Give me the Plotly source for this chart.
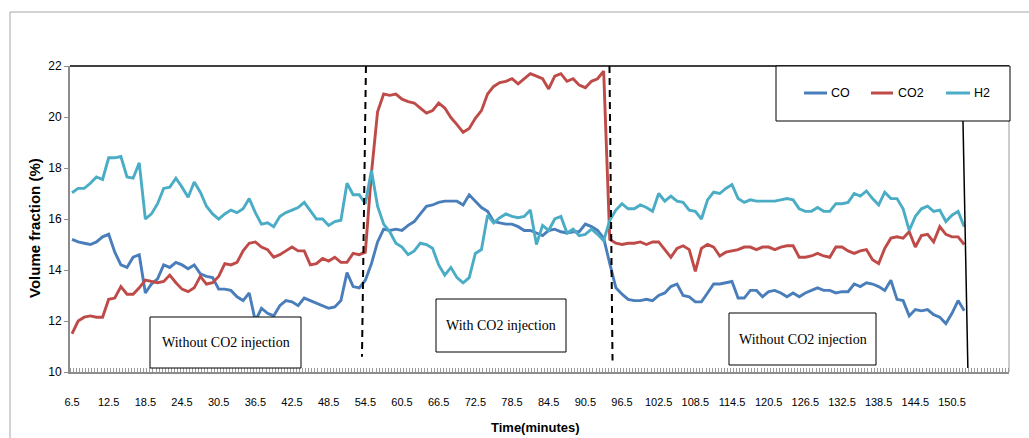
import plotly.graph_objects as go

# Gas composition sampled once a minute (minutes from start)
co = [15.2, 15.1, 15.05, 15.0, 15.1, 15.3, 15.4, 14.7, 14.2, 14.1,
      14.5, 14.6, 13.1, 13.45, 13.65, 14.2, 14.1, 14.3, 14.2, 14.05,
      14.2, 13.85, 13.75, 13.7, 13.25, 13.25, 13.2, 12.95, 12.8, 13.1,
      12.0, 12.5, 12.3, 12.2, 12.6, 12.8, 12.75, 12.6, 12.9, 12.8,
      12.7, 12.6, 12.5, 12.55, 12.8, 13.9, 13.35, 13.3, 13.6, 14.25,
      15.1, 15.6, 15.55, 15.6, 15.55, 15.75, 15.9, 16.2, 16.5, 16.55,
      16.65, 16.7, 16.7, 16.7, 16.55, 16.95, 16.7, 16.45, 16.3, 15.9,
      15.85, 15.8, 15.8, 15.7, 15.55, 15.55, 15.45, 15.35, 15.55, 15.6,
      15.5, 15.45, 15.5, 15.5, 15.8, 15.7, 15.55, 15.25, 14.25, 13.3,
      13.05, 12.85, 12.8, 12.8, 12.85, 12.8, 13.0, 13.1, 13.35, 13.45,
      13.0, 12.95, 12.75, 12.75, 13.1, 13.45, 13.45, 13.5, 13.55, 12.9,
      12.9, 13.2, 13.2, 12.95, 13.15, 13.2, 13.1, 12.95, 13.1, 12.95,
      13.1, 13.2, 13.3, 13.2, 13.2, 13.1, 13.15, 13.15, 13.45, 13.35,
      13.5, 13.45, 13.35, 13.2, 13.6, 12.85, 12.8, 12.2, 12.45, 12.4,
      12.45, 12.25, 12.15, 11.9, 12.3, 12.8, 12.4]

co2 = [11.5, 12.0, 12.15, 12.2, 12.15, 12.15, 12.85, 12.9, 13.35, 13.05,
       13.05, 13.3, 13.6, 13.55, 13.5, 13.55, 13.8, 13.5, 13.25, 13.15,
       13.3, 13.75, 13.45, 13.5, 13.75, 14.25, 14.2, 14.3, 14.75, 15.05,
       15.1, 14.9, 14.8, 14.5, 14.6, 14.75, 14.9, 14.75, 14.75, 14.2,
       14.25, 14.45, 14.35, 14.5, 14.3, 14.3, 14.65, 14.6, 14.7, 17.8,
       20.2, 20.9, 20.85, 20.9, 20.7, 20.6, 20.55, 20.35, 20.15, 20.25,
       20.55, 20.35, 19.98, 19.7, 19.4, 19.55, 19.95, 20.25, 20.9, 21.2,
       21.35, 21.4, 21.5, 21.3, 21.5, 21.7, 21.6, 21.5, 21.1, 21.6,
       21.7, 21.4, 21.5, 21.25, 21.15, 21.4, 21.5, 21.8, 15.2, 15.05,
       15.0, 15.05, 15.05, 15.1, 15.0, 15.1, 15.1, 14.8, 14.5, 14.85,
       14.95, 14.8, 13.95, 14.85, 15.0, 14.9, 14.55, 14.7, 14.75, 14.8,
       14.9, 14.9, 14.8, 14.9, 14.9, 14.8, 14.9, 14.95, 14.95, 14.5,
       14.5, 14.55, 14.65, 14.55, 14.5, 14.9, 14.9, 14.75, 14.65, 14.75,
       14.8, 14.4, 14.25, 14.85, 15.25, 15.3, 15.25, 15.5, 14.9, 15.35,
       15.4, 15.1, 15.7, 15.4, 15.3, 15.3, 15.0]

h2 = [17.03, 17.2, 17.2, 17.4, 17.65, 17.55, 18.4, 18.4, 18.45, 17.65,
      17.6, 18.2, 16.0, 16.2, 16.6, 17.2, 17.25, 17.6, 17.25, 16.85,
      17.45, 17.05, 16.5, 16.2, 16.0, 16.2, 16.35, 16.25, 16.4, 16.8,
      16.25, 15.8, 15.85, 15.7, 16.1, 16.25, 16.35, 16.45, 16.65, 16.3,
      16.0, 16.0, 15.75, 15.9, 15.95, 17.4, 16.95, 16.95, 16.6, 17.9,
      16.5, 15.8, 15.5, 15.05, 14.9, 14.6, 14.75, 15.05, 15.0, 14.85,
      14.2, 13.8, 14.1, 13.7, 13.5, 13.7, 14.65, 14.8, 16.15, 15.85,
      16.05, 16.2, 16.1, 16.05, 16.1, 16.35, 15.0, 15.75, 15.55, 16.0,
      16.1, 15.45, 15.6, 15.35, 15.4, 15.6, 15.4, 15.15, 15.95, 16.35,
      16.6, 16.4, 16.4, 16.55, 16.45, 16.3, 17.0, 16.7, 16.9, 16.7,
      16.65, 16.35, 16.3, 16.0, 16.75, 17.05, 17.0, 17.2, 17.35, 16.8,
      16.65, 16.75, 16.7, 16.7, 16.7, 16.7, 16.75, 16.8, 16.75, 16.4,
      16.3, 16.3, 16.45, 16.3, 16.3, 16.6, 16.6, 16.65, 17.0, 16.9,
      17.1, 16.8, 16.55, 17.05, 16.8, 16.8, 16.4, 15.55, 16.1, 16.4,
      16.5, 16.3, 16.35, 15.9, 16.15, 16.3, 15.7]

minutes = [6.5 + i for i in range(len(co))]
assert len(co) == len(co2) == len(h2)

tick_labels = [6.5 + 6 * k for k in range(25)]   # 6.5 ... 150.5

series = [("CO", co, "#4A7EBB"), ("CO2", co2, "#BE4B48"), ("H2", h2, "#4BACC6")]

# phase annotations
phase_texts = ["Without CO2 injection", "With CO2 injection", "Without CO2 injection"]

W, H = 1029, 438
L, R, T, B = 70, 1009, 66, 372


def xp(px):
    return (px - L) / (R - L)


def yp(py):
    return (B - py) / (B - T)


fig = go.Figure()
for name, vals, color in series:
    fig.add_trace(go.Scatter(x=minutes, y=vals, mode="lines", name=name,
                             line=dict(color=color, width=2.9),
                             showlegend=False))

sans = "Liberation Sans, Arial, sans-serif"

shapes = []
# plot frame: black top edge, grey right edge
shapes.append(dict(type="line", xref="paper", yref="paper", x0=0, x1=1, y0=1, y1=1,
                   line=dict(color="#000000", width=1.5)))
shapes.append(dict(type="line", xref="paper", yref="paper", x0=1, x1=1, y0=0, y1=1,
                   line=dict(color="#9A9A9A", width=1)))
# outer chart border
shapes.append(dict(type="rect", xref="paper", yref="paper", x0=xp(10), x1=xp(1040),
                   y0=yp(450), y1=yp(12), line=dict(color="#A6A6A6", width=1)))

# phase boundaries (dashed) and end-of-run line
shapes.append(dict(type="line", x0=54.6, y0=22, x1=53.95, y1=10.6,
                   line=dict(color="#000000", width=2, dash="7px,5px")))
shapes.append(dict(type="line", x0=94.45, y0=22, x1=94.95, y1=10.45,
                   line=dict(color="#000000", width=2, dash="7px,5px")))
shapes.append(dict(type="line", x0=152.3, y0=19.84, x1=153.1, y1=10.16,
                   line=dict(color="#000000", width=1.5)))

annotations = []
# phase text boxes (pixel boxes)
boxes = [(150, 317, 301, 368), (436, 299, 566, 352), (729, 313, 876, 365)]
for (bx0, by0, bx1, by1), txt in zip(boxes, phase_texts):
    shapes.append(dict(type="rect", xref="paper", yref="paper",
                       x0=xp(bx0), x1=xp(bx1), y0=yp(by1), y1=yp(by0),
                       line=dict(color="#000000", width=1), fillcolor="white"))
    annotations.append(dict(xref="paper", yref="paper", x=xp((bx0 + bx1) / 2),
                            y=yp((by0 + by1) / 2), text=txt, showarrow=False,
                            xanchor="center", yanchor="middle",
                            font=dict(family="Liberation Serif, Times New Roman, serif",
                                      size=14, color="#000000")))

# legend box
shapes.append(dict(type="rect", xref="paper", yref="paper", x0=xp(776), x1=xp(1010),
                   y0=yp(121), y1=yp(66), line=dict(color="#000000", width=1),
                   fillcolor="white"))
legend_items = [(804, 827, 829), (871, 893, 896), (946, 970, 972)]
for (lx0, lx1, tx), (name, _, color) in zip(legend_items, series):
    shapes.append(dict(type="line", xref="paper", yref="paper", x0=xp(lx0), x1=xp(lx1),
                       y0=yp(93), y1=yp(93), line=dict(color=color, width=3)))
    annotations.append(dict(xref="paper", yref="paper", x=xp(tx), y=yp(93), text=name,
                            showarrow=False, xanchor="left", yanchor="middle",
                            font=dict(family=sans, size=12.5, color="#000000")))

# axis titles
annotations.append(dict(xref="paper", yref="paper", x=xp(535), y=yp(427),
                        text="<b>Time(minutes)</b>", showarrow=False,
                        xanchor="center", yanchor="middle",
                        font=dict(family=sans, size=13, color="#000000")))
annotations.append(dict(xref="paper", yref="paper", x=xp(34), y=yp(228),
                        text="<b>Volume fraction (%)</b>", showarrow=False,
                        textangle=-90, xanchor="center", yanchor="middle",
                        font=dict(family=sans, size=15, color="#000000")))

fig.update_layout(
    width=W, height=H,
    margin=dict(l=L, r=W - R, t=T, b=H - B),
    paper_bgcolor="white", plot_bgcolor="white",
    shapes=shapes, annotations=annotations,
    showlegend=False,
)

fig.update_xaxes(
    range=[6.17, 159.83],
    tickvals=tick_labels,
    ticktext=[f"{v:.1f}" for v in tick_labels],
    ticks="", showgrid=False, zeroline=False,
    showline=True, linecolor="#8C8C8C", linewidth=2,
    tickfont=dict(family=sans, size=11, color="#000000"),
    ticklabelstandoff=19,
    minor=dict(tick0=6.25, dtick=0.5, ticks="inside", ticklen=4,
               tickcolor="#9A9A9A", tickwidth=1, showgrid=False),
)
fig.update_yaxes(
    range=[10, 22], dtick=2, tick0=10,
    ticks="outside", ticklen=4, tickcolor="#8C8C8C", tickwidth=1,
    showgrid=False, zeroline=False,
    showline=True, linecolor="#8C8C8C", linewidth=2,
    tickfont=dict(family=sans, size=12, color="#000000"),
)

fig.write_html("out.html")
